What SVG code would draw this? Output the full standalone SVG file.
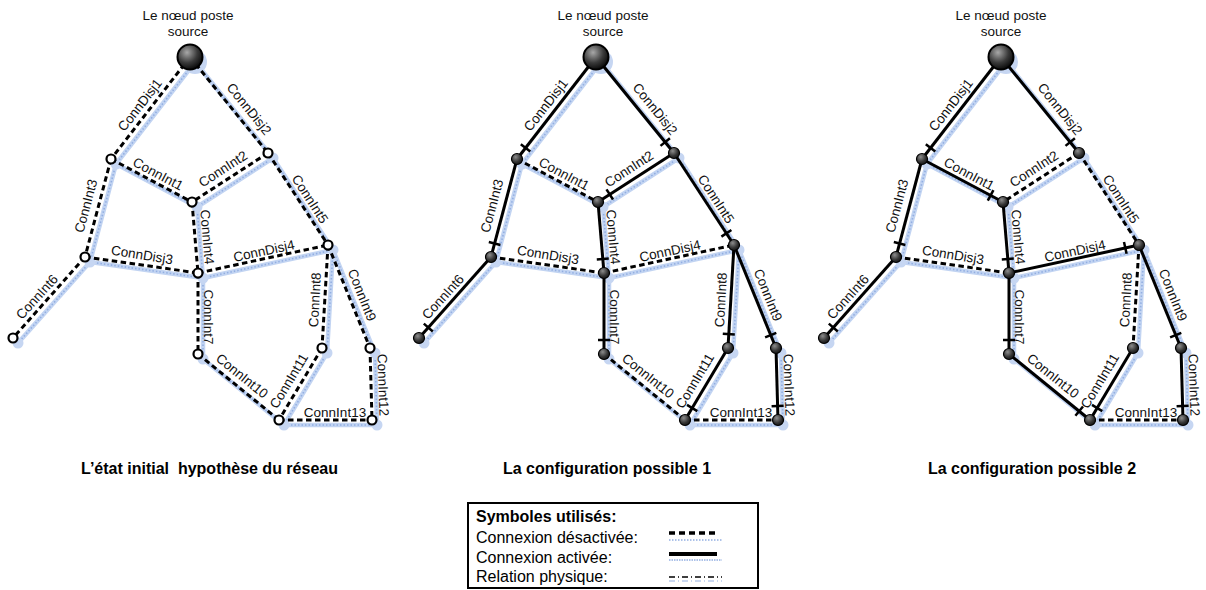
<svg xmlns="http://www.w3.org/2000/svg" width="1206" height="590" viewBox="0 0 1206 590">
<style>
.lbl{font-family:"Liberation Sans",Arial,sans-serif;font-size:13.5px;fill:#111}
.ttl{font-family:"Liberation Sans",Arial,sans-serif;font-size:16px;font-weight:bold;fill:#000;white-space:pre}
.leg{font-family:"Liberation Sans",Arial,sans-serif;font-size:16px;fill:#000}
.off{stroke:#000;stroke-width:3;stroke-dasharray:5.5 3.5;fill:none}
.on{stroke:#000;stroke-width:3;fill:none}
.tick{stroke:#000;stroke-width:2.5}
.phys{stroke:#c2d4f2;stroke-width:4.5;fill:none}
.physd{stroke:#93afe2;stroke-width:1.6;stroke-dasharray:1.5 2;fill:none}
.halo{fill:#c6d6f2}
.open{fill:#fff;stroke:#000;stroke-width:2.2}
.full{fill:url(#gn);stroke:#000;stroke-width:1.2}
.src{fill:url(#gs);stroke:#000;stroke-width:2}
</style>
<defs>
<radialGradient id="gs" cx="0.38" cy="0.32" r="0.75">
<stop offset="0" stop-color="#a8a8a8"/><stop offset="0.55" stop-color="#3a3a3a"/><stop offset="1" stop-color="#000"/>
</radialGradient>
<radialGradient id="gn" cx="0.38" cy="0.32" r="0.75">
<stop offset="0" stop-color="#8c8c8c"/><stop offset="0.6" stop-color="#333"/><stop offset="1" stop-color="#111"/>
</radialGradient>
</defs>
<rect width="1206" height="590" fill="#fff"/>

<!-- ================= Diagram 1 ================= -->
<g id="diagram1">
<g id="d1-physical" transform="translate(5,5)">
<path class="phys" d="M190,57L111,159M190,57L268,153M111,159L192,202M268,153L192,202M111,159L85,257M192,202L198,273M268,153L328,245M85,257L198,273M198,273L328,245M85,257L13,338M198,273L198,354M328,245L322,348M328,245L370,348M198,354L279,420M322,348L279,420M370,348L372,420M279,420L372,420"/>
<path class="physd" d="M190,57L111,159M190,57L268,153M111,159L192,202M268,153L192,202M111,159L85,257M192,202L198,273M268,153L328,245M85,257L198,273M198,273L328,245M85,257L13,338M198,273L198,354M328,245L322,348M328,245L370,348M198,354L279,420M322,348L279,420M370,348L372,420M279,420L372,420"/>
<circle class="halo" cx="190" cy="57" r="12"/>
<circle class="halo" cx="111" cy="159" r="5.5"/><circle class="halo" cx="268" cy="153" r="5.5"/><circle class="halo" cx="192" cy="202" r="5.5"/>
<circle class="halo" cx="85" cy="257" r="5.5"/><circle class="halo" cx="328" cy="245" r="5.5"/><circle class="halo" cx="198" cy="273" r="5.5"/>
<circle class="halo" cx="13" cy="338" r="5.5"/><circle class="halo" cx="198" cy="354" r="5.5"/><circle class="halo" cx="322" cy="348" r="5.5"/>
<circle class="halo" cx="370" cy="348" r="5.5"/><circle class="halo" cx="279" cy="420" r="5.5"/><circle class="halo" cx="372" cy="420" r="5.5"/>
</g>
<g id="d1-connectors">
<line id="d1-ConnDisj1" class="off" x1="190" y1="57" x2="111" y2="159"/>
<line id="d1-ConnDisj2" class="off" x1="190" y1="57" x2="268" y2="153"/>
<line id="d1-ConnInt1" class="off" x1="111" y1="159" x2="192" y2="202"/>
<line id="d1-ConnInt2" class="off" x1="268" y1="153" x2="192" y2="202"/>
<line id="d1-ConnInt3" class="off" x1="111" y1="159" x2="85" y2="257"/>
<line id="d1-ConnInt4" class="off" x1="192" y1="202" x2="198" y2="273"/>
<line id="d1-ConnInt5" class="off" x1="268" y1="153" x2="328" y2="245"/>
<line id="d1-ConnDisj3" class="off" x1="85" y1="257" x2="198" y2="273"/>
<line id="d1-ConnDisj4" class="off" x1="198" y1="273" x2="328" y2="245"/>
<line id="d1-ConnInt6" class="off" x1="85" y1="257" x2="13" y2="338"/>
<line id="d1-ConnInt7" class="off" x1="198" y1="273" x2="198" y2="354"/>
<line id="d1-ConnInt8" class="off" x1="328" y1="245" x2="322" y2="348"/>
<line id="d1-ConnInt9" class="off" x1="328" y1="245" x2="370" y2="348"/>
<line id="d1-ConnInt10" class="off" x1="198" y1="354" x2="279" y2="420"/>
<line id="d1-ConnInt11" class="off" x1="322" y1="348" x2="279" y2="420"/>
<line id="d1-ConnInt12" class="off" x1="370" y1="348" x2="372" y2="420"/>
<line id="d1-ConnInt13" class="off" x1="279" y1="420" x2="372" y2="420"/>
</g>
<g id="d1-labels" class="lbl" text-anchor="middle">
<text transform="translate(140,105) rotate(-52)" y="4.5">ConnDisj1</text>
<text transform="translate(249,109) rotate(51)" y="4.5">ConnDisj2</text>
<text transform="translate(158,174) rotate(28)" y="4.5">ConnInt1</text>
<text transform="translate(223,169) rotate(-33)" y="4.5">ConnInt2</text>
<text transform="translate(86,206) rotate(-75)" y="4.5">ConnInt3</text>
<text transform="translate(207,237) rotate(85)" y="4.5">ConnInt4</text>
<text transform="translate(310,199) rotate(57)" y="4.5">ConnInt5</text>
<text transform="translate(142,255) rotate(9)" y="4.5">ConnDisj3</text>
<text transform="translate(264,251) rotate(-12)" y="4.5">ConnDisj4</text>
<text transform="translate(37,297) rotate(-48)" y="4.5">ConnInt6</text>
<text transform="translate(208,317) rotate(90)" y="4.5">ConnInt7</text>
<text transform="translate(315,300) rotate(-87)" y="4.5">ConnInt8</text>
<text transform="translate(362,295) rotate(68)" y="4.5">ConnInt9</text>
<text transform="translate(242,376) rotate(39)" y="4.5">ConnInt10</text>
<text transform="translate(289,381) rotate(-59)" y="4.5">ConnInt11</text>
<text transform="translate(383,385) rotate(88)" y="4.5">ConnInt12</text>
<text transform="translate(335,412)" y="4.5">ConnInt13</text>
</g>
<g id="d1-source"><text class="lbl" text-anchor="middle" x="188" y="20">Le nœud poste</text><text class="lbl" text-anchor="middle" x="188" y="36">source</text><circle class="src" cx="190" cy="57" r="12.5"/></g>
<g id="d1-n1"><circle class="open" cx="111" cy="159" r="4.5"/></g>
<g id="d1-n2"><circle class="open" cx="268" cy="153" r="4.5"/></g>
<g id="d1-n3"><circle class="open" cx="192" cy="202" r="4.5"/></g>
<g id="d1-n4"><circle class="open" cx="85" cy="257" r="4.5"/></g>
<g id="d1-n5"><circle class="open" cx="328" cy="245" r="4.5"/></g>
<g id="d1-n6"><circle class="open" cx="198" cy="273" r="4.5"/></g>
<g id="d1-n7"><circle class="open" cx="13" cy="338" r="4.5"/></g>
<g id="d1-n8"><circle class="open" cx="198" cy="354" r="4.5"/></g>
<g id="d1-n9"><circle class="open" cx="322" cy="348" r="4.5"/></g>
<g id="d1-n10"><circle class="open" cx="370" cy="348" r="4.5"/></g>
<g id="d1-n11"><circle class="open" cx="279" cy="420" r="4.5"/></g>
<g id="d1-n12"><circle class="open" cx="372" cy="420" r="4.5"/></g>
</g>

<!-- ================= Diagram 2 ================= -->
<g id="diagram2" transform="translate(406,0)">
<g id="d2-physical" transform="translate(5,5)">
<path class="phys" d="M190,57L111,159M190,57L268,153M111,159L192,202M268,153L192,202M111,159L85,257M192,202L198,273M268,153L328,245M85,257L198,273M198,273L328,245M85,257L13,338M198,273L198,354M328,245L322,348M328,245L370,348M198,354L279,420M322,348L279,420M370,348L372,420M279,420L372,420"/>
<path class="physd" d="M190,57L111,159M190,57L268,153M111,159L192,202M268,153L192,202M111,159L85,257M192,202L198,273M268,153L328,245M85,257L198,273M198,273L328,245M85,257L13,338M198,273L198,354M328,245L322,348M328,245L370,348M198,354L279,420M322,348L279,420M370,348L372,420M279,420L372,420"/>
<circle class="halo" cx="190" cy="57" r="12"/>
<circle class="halo" cx="111" cy="159" r="5.5"/><circle class="halo" cx="268" cy="153" r="5.5"/><circle class="halo" cx="192" cy="202" r="5.5"/>
<circle class="halo" cx="85" cy="257" r="5.5"/><circle class="halo" cx="328" cy="245" r="5.5"/><circle class="halo" cx="198" cy="273" r="5.5"/>
<circle class="halo" cx="13" cy="338" r="5.5"/><circle class="halo" cx="198" cy="354" r="5.5"/><circle class="halo" cx="322" cy="348" r="5.5"/>
<circle class="halo" cx="370" cy="348" r="5.5"/><circle class="halo" cx="279" cy="420" r="5.5"/><circle class="halo" cx="372" cy="420" r="5.5"/>
</g>
<g id="d2-connectors">
<line id="d2-ConnDisj1" class="on" x1="190" y1="57" x2="111" y2="159"/>
<line class="tick" x1="114.8" y1="144.3" x2="124.3" y2="151.6"/>
<line id="d2-ConnDisj2" class="on" x1="190" y1="57" x2="268" y2="153"/>
<line class="tick" x1="254.5" y1="145.9" x2="263.9" y2="138.3"/>
<line id="d2-ConnInt1" class="off" x1="111" y1="159" x2="192" y2="202"/>
<line id="d2-ConnInt2" class="on" x1="268" y1="153" x2="192" y2="202"/>
<line class="tick" x1="200.5" y1="189.4" x2="207" y2="199.5"/>
<line id="d2-ConnInt3" class="on" x1="111" y1="159" x2="85" y2="257"/>
<line class="tick" x1="82.8" y1="242" x2="94.4" y2="245"/>
<line id="d2-ConnInt4" class="on" x1="192" y1="202" x2="198" y2="273"/>
<line class="tick" x1="190.8" y1="259.5" x2="202.8" y2="258.5"/>
<line id="d2-ConnInt5" class="on" x1="268" y1="153" x2="328" y2="245"/>
<line class="tick" x1="315.4" y1="236.6" x2="325.4" y2="230"/>
<line id="d2-ConnDisj3" class="off" x1="85" y1="257" x2="198" y2="273"/>
<line id="d2-ConnDisj4" class="off" x1="198" y1="273" x2="328" y2="245"/>
<line id="d2-ConnInt6" class="on" x1="85" y1="257" x2="13" y2="338"/>
<line class="tick" x1="17.8" y1="323.6" x2="26.8" y2="331.5"/>
<line id="d2-ConnInt7" class="on" x1="198" y1="273" x2="198" y2="354"/>
<line class="tick" x1="192" y1="340" x2="204" y2="340"/>
<line id="d2-ConnInt8" class="on" x1="328" y1="245" x2="322" y2="348"/>
<line class="tick" x1="316.8" y1="333.7" x2="328.8" y2="334.4"/>
<line id="d2-ConnInt9" class="on" x1="328" y1="245" x2="370" y2="348"/>
<line class="tick" x1="359.1" y1="337.3" x2="370.3" y2="332.8"/>
<line id="d2-ConnInt10" class="off" x1="198" y1="354" x2="279" y2="420"/>
<line id="d2-ConnInt11" class="on" x1="322" y1="348" x2="279" y2="420"/>
<line class="tick" x1="281" y1="404.9" x2="291.3" y2="411.1"/>
<line id="d2-ConnInt12" class="on" x1="370" y1="348" x2="372" y2="420"/>
<line class="tick" x1="365.6" y1="406.2" x2="377.6" y2="405.8"/>
<line id="d2-ConnInt13" class="off" x1="279" y1="420" x2="372" y2="420"/>
</g>
<g id="d2-labels" class="lbl" text-anchor="middle">
<text transform="translate(140,105) rotate(-52)" y="4.5">ConnDisj1</text>
<text transform="translate(249,109) rotate(51)" y="4.5">ConnDisj2</text>
<text transform="translate(158,174) rotate(28)" y="4.5">ConnInt1</text>
<text transform="translate(223,169) rotate(-33)" y="4.5">ConnInt2</text>
<text transform="translate(86,206) rotate(-75)" y="4.5">ConnInt3</text>
<text transform="translate(207,237) rotate(85)" y="4.5">ConnInt4</text>
<text transform="translate(310,199) rotate(57)" y="4.5">ConnInt5</text>
<text transform="translate(142,255) rotate(9)" y="4.5">ConnDisj3</text>
<text transform="translate(264,251) rotate(-12)" y="4.5">ConnDisj4</text>
<text transform="translate(37,297) rotate(-48)" y="4.5">ConnInt6</text>
<text transform="translate(208,317) rotate(90)" y="4.5">ConnInt7</text>
<text transform="translate(315,300) rotate(-87)" y="4.5">ConnInt8</text>
<text transform="translate(362,295) rotate(68)" y="4.5">ConnInt9</text>
<text transform="translate(242,376) rotate(39)" y="4.5">ConnInt10</text>
<text transform="translate(289,381) rotate(-59)" y="4.5">ConnInt11</text>
<text transform="translate(383,385) rotate(88)" y="4.5">ConnInt12</text>
<text transform="translate(335,412)" y="4.5">ConnInt13</text>
</g>
<g id="d2-source"><text class="lbl" text-anchor="middle" x="197" y="20">Le nœud poste</text><text class="lbl" text-anchor="middle" x="197" y="36">source</text><circle class="src" cx="190" cy="57" r="12.5"/></g>
<g id="d2-n1"><circle class="full" cx="111" cy="159" r="5.5"/></g>
<g id="d2-n2"><circle class="full" cx="268" cy="153" r="5.5"/></g>
<g id="d2-n3"><circle class="full" cx="192" cy="202" r="5.5"/></g>
<g id="d2-n4"><circle class="full" cx="85" cy="257" r="5.5"/></g>
<g id="d2-n5"><circle class="full" cx="328" cy="245" r="5.5"/></g>
<g id="d2-n6"><circle class="full" cx="198" cy="273" r="5.5"/></g>
<g id="d2-n7"><circle class="full" cx="13" cy="338" r="5.5"/></g>
<g id="d2-n8"><circle class="full" cx="198" cy="354" r="5.5"/></g>
<g id="d2-n9"><circle class="full" cx="322" cy="348" r="5.5"/></g>
<g id="d2-n10"><circle class="full" cx="370" cy="348" r="5.5"/></g>
<g id="d2-n11"><circle class="full" cx="279" cy="420" r="5.5"/></g>
<g id="d2-n12"><circle class="full" cx="372" cy="420" r="5.5"/></g>
</g>

<!-- ================= Diagram 3 ================= -->
<g id="diagram3" transform="translate(811,0)">
<g id="d3-physical" transform="translate(5,5)">
<path class="phys" d="M190,57L111,159M190,57L268,153M111,159L192,202M268,153L192,202M111,159L85,257M192,202L198,273M268,153L328,245M85,257L198,273M198,273L328,245M85,257L13,338M198,273L198,354M328,245L322,348M328,245L370,348M198,354L279,420M322,348L279,420M370,348L372,420M279,420L372,420"/>
<path class="physd" d="M190,57L111,159M190,57L268,153M111,159L192,202M268,153L192,202M111,159L85,257M192,202L198,273M268,153L328,245M85,257L198,273M198,273L328,245M85,257L13,338M198,273L198,354M328,245L322,348M328,245L370,348M198,354L279,420M322,348L279,420M370,348L372,420M279,420L372,420"/>
<circle class="halo" cx="190" cy="57" r="12"/>
<circle class="halo" cx="111" cy="159" r="5.5"/><circle class="halo" cx="268" cy="153" r="5.5"/><circle class="halo" cx="192" cy="202" r="5.5"/>
<circle class="halo" cx="85" cy="257" r="5.5"/><circle class="halo" cx="328" cy="245" r="5.5"/><circle class="halo" cx="198" cy="273" r="5.5"/>
<circle class="halo" cx="13" cy="338" r="5.5"/><circle class="halo" cx="198" cy="354" r="5.5"/><circle class="halo" cx="322" cy="348" r="5.5"/>
<circle class="halo" cx="370" cy="348" r="5.5"/><circle class="halo" cx="279" cy="420" r="5.5"/><circle class="halo" cx="372" cy="420" r="5.5"/>
</g>
<g id="d3-connectors">
<line id="d3-ConnDisj1" class="on" x1="190" y1="57" x2="111" y2="159"/>
<line class="tick" x1="114.8" y1="144.3" x2="124.3" y2="151.6"/>
<line id="d3-ConnDisj2" class="on" x1="190" y1="57" x2="268" y2="153"/>
<line class="tick" x1="254.5" y1="145.9" x2="263.9" y2="138.3"/>
<line id="d3-ConnInt1" class="on" x1="111" y1="159" x2="192" y2="202"/>
<line class="tick" x1="176.8" y1="200.7" x2="182.4" y2="190.1"/>
<line id="d3-ConnInt2" class="off" x1="268" y1="153" x2="192" y2="202"/>
<line id="d3-ConnInt3" class="on" x1="111" y1="159" x2="85" y2="257"/>
<line class="tick" x1="82.8" y1="242" x2="94.4" y2="245"/>
<line id="d3-ConnInt4" class="on" x1="192" y1="202" x2="198" y2="273"/>
<line class="tick" x1="190.8" y1="259.5" x2="202.8" y2="258.5"/>
<line id="d3-ConnInt5" class="off" x1="268" y1="153" x2="328" y2="245"/>
<line id="d3-ConnDisj3" class="off" x1="85" y1="257" x2="198" y2="273"/>
<line id="d3-ConnDisj4" class="on" x1="198" y1="273" x2="328" y2="245"/>
<line class="tick" x1="315.6" y1="253.8" x2="313" y2="242.1"/>
<line id="d3-ConnInt6" class="on" x1="85" y1="257" x2="13" y2="338"/>
<line class="tick" x1="17.8" y1="323.6" x2="26.8" y2="331.5"/>
<line id="d3-ConnInt7" class="on" x1="198" y1="273" x2="198" y2="354"/>
<line class="tick" x1="192" y1="340" x2="204" y2="340"/>
<line id="d3-ConnInt8" class="off" x1="328" y1="245" x2="322" y2="348"/>
<line id="d3-ConnInt9" class="on" x1="328" y1="245" x2="370" y2="348"/>
<line class="tick" x1="359.1" y1="337.3" x2="370.3" y2="332.8"/>
<line id="d3-ConnInt10" class="on" x1="198" y1="354" x2="279" y2="420"/>
<line class="tick" x1="264.4" y1="415.8" x2="272" y2="406.5"/>
<line id="d3-ConnInt11" class="on" x1="322" y1="348" x2="279" y2="420"/>
<line class="tick" x1="281" y1="404.9" x2="291.3" y2="411.1"/>
<line id="d3-ConnInt12" class="on" x1="370" y1="348" x2="372" y2="420"/>
<line class="tick" x1="365.6" y1="406.2" x2="377.6" y2="405.8"/>
<line id="d3-ConnInt13" class="off" x1="279" y1="420" x2="372" y2="420"/>
</g>
<g id="d3-labels" class="lbl" text-anchor="middle">
<text transform="translate(140,105) rotate(-52)" y="4.5">ConnDisj1</text>
<text transform="translate(249,109) rotate(51)" y="4.5">ConnDisj2</text>
<text transform="translate(158,174) rotate(28)" y="4.5">ConnInt1</text>
<text transform="translate(223,169) rotate(-33)" y="4.5">ConnInt2</text>
<text transform="translate(86,206) rotate(-75)" y="4.5">ConnInt3</text>
<text transform="translate(207,237) rotate(85)" y="4.5">ConnInt4</text>
<text transform="translate(310,199) rotate(57)" y="4.5">ConnInt5</text>
<text transform="translate(142,255) rotate(9)" y="4.5">ConnDisj3</text>
<text transform="translate(264,251) rotate(-12)" y="4.5">ConnDisj4</text>
<text transform="translate(37,297) rotate(-48)" y="4.5">ConnInt6</text>
<text transform="translate(208,317) rotate(90)" y="4.5">ConnInt7</text>
<text transform="translate(315,300) rotate(-87)" y="4.5">ConnInt8</text>
<text transform="translate(362,295) rotate(68)" y="4.5">ConnInt9</text>
<text transform="translate(242,376) rotate(39)" y="4.5">ConnInt10</text>
<text transform="translate(289,381) rotate(-59)" y="4.5">ConnInt11</text>
<text transform="translate(383,385) rotate(88)" y="4.5">ConnInt12</text>
<text transform="translate(335,412)" y="4.5">ConnInt13</text>
</g>
<g id="d3-source"><text class="lbl" text-anchor="middle" x="190" y="20">Le nœud poste</text><text class="lbl" text-anchor="middle" x="190" y="36">source</text><circle class="src" cx="190" cy="57" r="12.5"/></g>
<g id="d3-n1"><circle class="full" cx="111" cy="159" r="5.5"/></g>
<g id="d3-n2"><circle class="full" cx="268" cy="153" r="5.5"/></g>
<g id="d3-n3"><circle class="full" cx="192" cy="202" r="5.5"/></g>
<g id="d3-n4"><circle class="full" cx="85" cy="257" r="5.5"/></g>
<g id="d3-n5"><circle class="full" cx="328" cy="245" r="5.5"/></g>
<g id="d3-n6"><circle class="full" cx="198" cy="273" r="5.5"/></g>
<g id="d3-n7"><circle class="full" cx="13" cy="338" r="5.5"/></g>
<g id="d3-n8"><circle class="full" cx="198" cy="354" r="5.5"/></g>
<g id="d3-n9"><circle class="full" cx="322" cy="348" r="5.5"/></g>
<g id="d3-n10"><circle class="full" cx="370" cy="348" r="5.5"/></g>
<g id="d3-n11"><circle class="full" cx="279" cy="420" r="5.5"/></g>
<g id="d3-n12"><circle class="full" cx="372" cy="420" r="5.5"/></g>
</g>

<!-- ================= Titles ================= -->
<g id="titles" class="ttl">
<text x="81" y="474" xml:space="preserve">L’état initial  hypothèse du réseau</text>
<text x="503" y="474">La configuration possible 1</text>
<text x="928" y="474">La configuration possible 2</text>
</g>

<!-- ================= Legend ================= -->
<g id="legend">
<rect x="468" y="503" width="290" height="85" fill="#fff" stroke="#000" stroke-width="2"/>
<text class="ttl" x="476" y="522">Symboles utilisés:</text>
<text class="leg" x="476" y="543">Connexion désactivée:</text>
<text class="leg" x="476" y="563">Connexion activée:</text>
<text class="leg" x="476" y="582">Relation physique:</text>
<line x1="669" y1="540" x2="722" y2="540" stroke="#93afe2" stroke-width="1.5" stroke-dasharray="1.5 1.5"/>
<line x1="669" y1="533" x2="717" y2="533" stroke="#000" stroke-width="3.5" stroke-dasharray="6 4"/>
<line x1="669" y1="560" x2="722" y2="560" stroke="#93afe2" stroke-width="1.5" stroke-dasharray="1.5 1"/>
<line x1="669" y1="554" x2="717" y2="554" stroke="#000" stroke-width="4"/>
<line x1="669" y1="581" x2="722" y2="581" stroke="#93afe2" stroke-width="1.2" stroke-dasharray="6 3 1 3"/>
<line x1="669" y1="577" x2="722" y2="577" stroke="#000" stroke-width="1.5" stroke-dasharray="6 3 1 3"/>
</g>
</svg>
